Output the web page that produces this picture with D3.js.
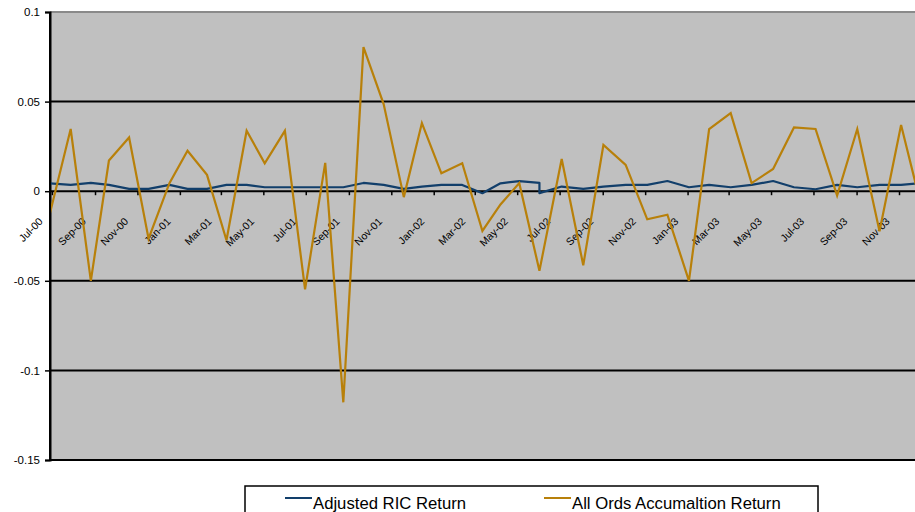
<!DOCTYPE html>
<html>
<head>
<meta charset="utf-8">
<script src="https://cdn.jsdelivr.net/npm/d3@7"></script>
<style>
  html, body { margin: 0; padding: 0; background: #ffffff; }
  svg { display: block; font-family: "Liberation Sans", Arial, sans-serif; }
</style>
</head>
<body>
<svg id="chart" width="915" height="512"></svg>
<script>
// ---- data ----
const dates = [
  "2000-06-28","2000-07-28","2000-08-26","2000-09-21","2000-10-20","2000-11-17","2000-12-17",
  "2001-01-12","2001-02-09","2001-03-09","2001-04-07","2001-05-03","2001-06-01","2001-06-30",
  "2001-07-29","2001-08-24","2001-09-22","2001-10-21","2001-11-19","2001-12-15",
  "2002-01-12","2002-02-11","2002-03-12","2002-04-07","2002-05-04","2002-06-02","2002-06-02",
  "2002-07-04","2002-08-04","2002-09-02","2002-10-04","2002-11-04","2002-12-03",
  "2003-01-03","2003-02-01","2003-03-04","2003-04-03","2003-05-04","2003-06-03","2003-07-04",
  "2003-08-04","2003-09-02","2003-10-04","2003-11-04","2003-12-04"
];
const ricReturn = [
  0.0044,0.0035,0.0046,0.0035,0.0013,0.0013,0.0035,
  0.0013,0.0013,0.0035,0.0035,0.0022,0.0022,0.0022,
  0.0022,0.0022,0.0046,0.0035,0.0013,0.0026,
  0.0035,0.0035,-0.0011,0.0044,0.0056,0.0046,-0.0011,
  0.0026,0.0013,0.0026,0.0035,0.0035,0.0057,
  0.0022,0.0035,0.0022,0.0035,0.0057,0.0022,0.0011,
  0.0035,0.0022,0.0035,0.0035,0.0046
];
const allOrdsReturn = [
  -0.0126,0.0347,-0.050,0.0171,0.030,-0.0265,0.0045,
  0.0226,0.0091,-0.0274,0.0337,0.0156,0.0337,-0.0548,
  0.0158,-0.1178,0.0804,0.0486,-0.0033,0.038,
  0.010,0.0156,-0.0222,-0.0074,0.0045,-0.0444,-0.0444,
  0.018,-0.0413,0.0258,0.0147,-0.0157,-0.0131,
  -0.050,0.0347,0.0436,0.0045,0.0124,0.0356,0.0347,
  -0.0024,0.0347,-0.0224,0.0369,-0.010
];
const yTicks = [0.1, 0.05, 0, -0.05, -0.1, -0.15];
const yTickLabels = ["0.1", "0.05", "0", "-0.05", "-0.1", "-0.15"];
const seriesNames = ["Adjusted RIC Return", "All Ords Accumaltion Return"];
const seriesColors = ["#123f6b", "#b8800a"];

// ---- layout ----
const svg = d3.select("#chart");
const parse = d3.timeParse("%Y-%m-%d");
const dt = dates.map(parse);

const plot = { left: 50, top: 12, right: 915, bottom: 460 };

const x = d3.scaleTime()
  .domain([new Date(2000, 6, 1), new Date(2003, 10, 1)])
  .range([51.9, 899]);
const y = d3.scaleLinear()
  .domain([-0.15, 0.1])
  .range([plot.bottom, plot.top]);

// plot background
svg.append("rect")
  .attr("x", plot.left).attr("y", plot.top)
  .attr("width", plot.right - plot.left).attr("height", plot.bottom - plot.top)
  .attr("fill", "#c0c0c0");

// gridlines
svg.append("g").selectAll("line")
  .data(yTicks)
  .join("line")
  .attr("x1", plot.left).attr("x2", plot.right)
  .attr("y1", d => y(d)).attr("y2", d => y(d))
  .attr("stroke", d => d === 0.1 ? "#8a8a8a" : "#000")
  .attr("stroke-width", 2);

// y axis
const yAxis = d3.axisLeft(y)
  .tickValues(yTicks)
  .tickSize(5)
  .tickPadding(5)
  .tickFormat((d, i) => yTickLabels[i]);
const gy = svg.append("g")
  .attr("transform", `translate(${plot.left},0)`)
  .call(yAxis);
gy.attr("font-size", null);
gy.select(".domain").attr("stroke", "#000").attr("stroke-width", 2);
gy.selectAll(".tick line").attr("stroke", "#000").attr("stroke-width", 1.5);
gy.selectAll(".tick text")
  .style("font-size", "11.5px")
  .attr("fill", "#000")
  .attr("font-family", "Liberation Sans, Arial, sans-serif");

// x axis along zero line
const xTicks = d3.timeMonth.every(2).range(new Date(2000, 6, 1), new Date(2003, 11, 2));
const xAxis = d3.axisBottom(x)
  .tickValues(xTicks)
  .tickSize(4)
  .tickFormat(d3.timeFormat("%b-%y"));
const gx = svg.append("g")
  .attr("transform", `translate(0,${y(0)})`)
  .call(xAxis);
gx.attr("font-size", null);
gx.select(".domain").remove();
gx.selectAll(".tick line").attr("stroke", "#000").attr("stroke-width", 1.5);
gx.selectAll(".tick text")
  .style("font-size", "10.5px")
  .attr("fill", "#000")
  .attr("font-family", "Liberation Sans, Arial, sans-serif")
  .attr("text-anchor", "end")
  .attr("y", 0).attr("dy", 0)
  .attr("transform", "translate(-9,31) rotate(-45)");

// lines
const clipId = "plotclip";
svg.append("clipPath").attr("id", clipId)
  .append("rect")
  .attr("x", plot.left).attr("y", plot.top)
  .attr("width", plot.right - plot.left + 20).attr("height", plot.bottom - plot.top);

const lineGen = d3.line()
  .x(d => x(d[0]))
  .y(d => y(d[1]));

const series = [
  dt.map((d, i) => [d, ricReturn[i]]),
  dt.map((d, i) => [d, allOrdsReturn[i]])
];

const gl = svg.append("g").attr("clip-path", `url(#${clipId})`);
gl.append("path")
  .datum(series[0])
  .attr("d", lineGen)
  .attr("fill", "none")
  .attr("stroke", seriesColors[0])
  .attr("stroke-width", 2.2)
  .attr("stroke-linejoin", "round");
gl.append("path")
  .datum(series[1])
  .attr("d", lineGen)
  .attr("fill", "none")
  .attr("stroke", seriesColors[1])
  .attr("stroke-width", 2.2)
  .attr("stroke-linejoin", "miter");

// y axis line drawn on top
svg.append("line")
  .attr("x1", plot.left).attr("x2", plot.left)
  .attr("y1", plot.top).attr("y2", plot.bottom)
  .attr("stroke", "#000").attr("stroke-width", 2);

// legend
const lg = svg.append("g");
lg.append("rect")
  .attr("x", 245).attr("y", 486)
  .attr("width", 573).attr("height", 40)
  .attr("fill", "#fff")
  .attr("stroke", "#000").attr("stroke-width", 1.5);
const legendItems = [
  { x: 285, name: seriesNames[0], color: seriesColors[0] },
  { x: 544, name: seriesNames[1], color: seriesColors[1] }
];
legendItems.forEach(it => {
  lg.append("line")
    .attr("x1", it.x).attr("x2", it.x + 27)
    .attr("y1", 498).attr("y2", 498)
    .attr("stroke", it.color).attr("stroke-width", 2);
  lg.append("text")
    .attr("x", it.x + 28).attr("y", 508.5)
    .style("font-size", "16.7px")
    .attr("fill", "#000")
    .text(it.name);
});
</script>
</body>
</html>
